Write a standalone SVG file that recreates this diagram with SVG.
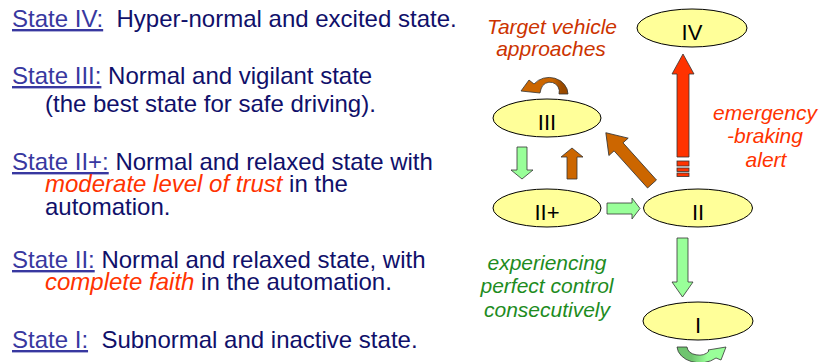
<svg xmlns="http://www.w3.org/2000/svg" width="819" height="362" viewBox="0 0 819 362">
<style>
.desc{font-family:"Liberation Sans",Arial,sans-serif;font-size:24px;fill:#10106a;white-space:pre}
.lbl{fill:#3838a0;text-decoration:underline}
.hl{fill:#ff3300;font-style:italic}
.note{font-family:"Liberation Sans",Arial,sans-serif;font-size:21px;font-style:italic;text-anchor:middle}
.node ellipse{fill:#ffff99;stroke:#000;stroke-width:1}
.node text{font-family:"Liberation Sans",Arial,sans-serif;font-size:22px;fill:#000;text-anchor:middle}
.g{fill:#99ff99;stroke:#333;stroke-width:0.8}
.b{fill:#cc6600;stroke:#333;stroke-width:0.8}
.r{fill:#ff3300;stroke:#333;stroke-width:0.8}
</style>
<defs>
<linearGradient id="bg" x1="530" y1="0" x2="570" y2="0" gradientUnits="userSpaceOnUse">
<stop offset="0.55" stop-color="#cc6600"/>
<stop offset="0.8" stop-color="#9a4a00"/>
</linearGradient>
<linearGradient id="gg" x1="676" y1="0" x2="728" y2="0" gradientUnits="userSpaceOnUse">
<stop offset="0.3" stop-color="#6fc46f"/>
<stop offset="0.6" stop-color="#99ff99"/>
</linearGradient>
</defs>
<rect width="819" height="362" fill="#fff"/>

<g id="legend">
<text class="desc" x="12" y="27"><tspan class="lbl">State IV:</tspan>  Hyper-normal and excited state.</text>
<text class="desc" x="12" y="84"><tspan class="lbl">State III:</tspan> Normal and vigilant state</text>
<text class="desc" x="45" y="112">(the best state for safe driving).</text>
<text class="desc" x="12" y="170"><tspan class="lbl">State II+:</tspan> Normal and relaxed state with</text>
<text class="desc" x="45" y="192"><tspan class="hl">moderate level of trust</tspan> in the</text>
<text class="desc" x="45" y="215">automation.</text>
<text class="desc" x="12" y="268"><tspan class="lbl">State II:</tspan> Normal and relaxed state, with</text>
<text class="desc" x="45" y="290"><tspan class="hl">complete faith</tspan> in the automation.</text>
<text class="desc" x="12" y="348"><tspan class="lbl">State I:</tspan>  Subnormal and inactive state.</text>
</g>

<g id="connectors">
<polygon class="r" points="683,54 694,74 689,74 689,157 677,157 677,74 672,74"/>
<rect class="r" x="677" y="161" width="12" height="5"/>
<rect class="r" x="677" y="168" width="12" height="3.5"/>
<rect class="r" x="677" y="173" width="12" height="3.5"/>
<polygon class="b" transform="translate(652,184) rotate(-132)" points="0,-6 50,-6 50,-13 69,0 50,13 50,6 0,6"/>
<polygon class="b" points="572,148 583,157 577,157 577,179 567,179 567,157 561,157"/>
<polygon class="g" points="517,147 527,147 527,170 533,170 522,179 511,170 517,170"/>
<polygon class="g" points="607,203 632,203 632,198 640,208.5 632,219 632,214 607,214"/>
<polygon class="g" points="677,238 688,238 688,282 693,282 682.5,297 672,282 677,282"/>
<path d="M568,94 A19,17 0 0 0 534,84 L529,80 L521,91 L540,93 L541,89 A9,9 0 0 1 559,94 Z" fill="url(#bg)" stroke="#333" stroke-width="0.8"/>
<path d="M677,347 A23,17 0 0 0 716,358 L721,360 L726,347 L708,350 L709,351 A12,9 0 0 1 687,347 Z" fill="url(#gg)" stroke="#333" stroke-width="0.8"/>
</g>

<g id="node-IV" class="node"><ellipse cx="692" cy="28" rx="55" ry="19"/><text x="692" y="40">IV</text></g>
<g id="node-III" class="node"><ellipse cx="547" cy="118" rx="54" ry="19"/><text x="547" y="130">III</text></g>
<g id="node-IIplus" class="node"><ellipse cx="547" cy="208" rx="54" ry="19"/><text x="547" y="220">II+</text></g>
<g id="node-II" class="node"><ellipse cx="698" cy="208" rx="54.5" ry="19"/><text x="698" y="220">II</text></g>
<g id="node-I" class="node"><ellipse cx="698" cy="321" rx="55" ry="19"/><text x="698" y="333">I</text></g>

<g id="labels">
<text class="note" fill="#cc3300"><tspan x="552" y="34">Target vehicle</tspan><tspan x="551" y="56">approaches</tspan></text>
<text class="note" fill="#ff3300"><tspan x="765" y="120">emergency</tspan><tspan x="765" y="143">-braking</tspan><tspan x="766" y="167">alert</tspan></text>
<text class="note" fill="#1e8c1e"><tspan x="547" y="270">experiencing</tspan><tspan x="547" y="293">perfect control</tspan><tspan x="547" y="317">consecutively</tspan></text>
</g>
</svg>
